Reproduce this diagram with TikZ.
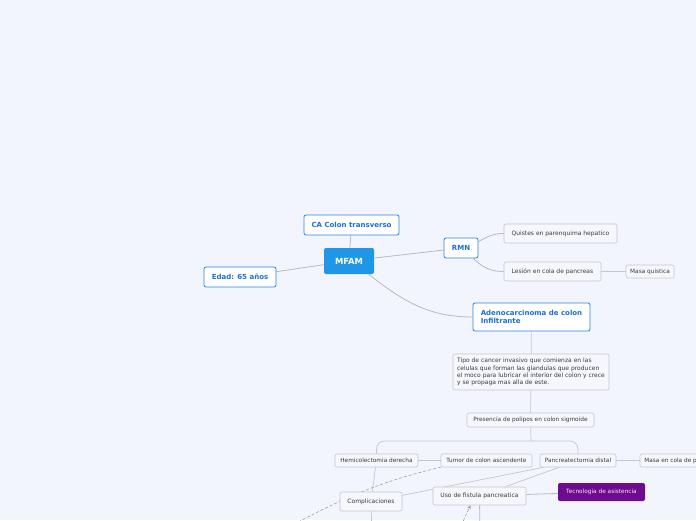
\documentclass[tikz,border=0pt]{standalone}
\usepackage{fontspec}
\setmainfont{DejaVu Sans}
\usetikzlibrary{arrows.meta,backgrounds}
\definecolor{bgcol}{HTML}{F2F5FE}
\definecolor{rootblue}{HTML}{1F97E6}
\definecolor{topicedge}{HTML}{2C84E2}
\definecolor{topictext}{HTML}{1D6FD4}
\definecolor{leafedge}{HTML}{C3C7D0}
\definecolor{leaffill}{HTML}{F6F7FC}
\definecolor{leaftext}{HTML}{3A3B3F}
\definecolor{linkgray}{HTML}{B6BAC2}
\definecolor{techpurple}{HTML}{6D0C8E}
\begin{document}
\begin{tikzpicture}[x=1pt,y=1pt,
root/.style={rectangle,rounded corners=2pt,fill=rootblue,text=white,font=\fontsize{8.4}{10}\selectfont\bfseries,minimum width=50pt,minimum height=26pt,inner sep=0pt},
topic/.style={rectangle,rounded corners=2pt,draw=topicedge,line width=0.8pt,fill=white,text=topictext,font=\fontsize{7}{8.3}\selectfont\bfseries,minimum height=20pt,inner sep=0pt},
leaf/.style={rectangle,rounded corners=2pt,draw=leafedge,line width=0.6pt,fill=leaffill,text=leaftext,font=\fontsize{6}{7.3}\selectfont,minimum height=19pt,inner sep=0pt},
leafsmall/.style={leaf,font=\fontsize{5.8}{7}\selectfont,minimum height=13pt},
tech/.style={rectangle,rounded corners=2pt,fill=techpurple,text=white!88!magenta,font=\fontsize{5.8}{7}\selectfont,minimum height=18pt,inner sep=0pt},
link/.style={draw=linkgray,line width=0.8pt},
leaflink/.style={draw=leafedge,line width=0.7pt},
dashlink/.style={draw=gray!75,line width=0.6pt,dash pattern=on 3pt off 2pt}]
\useasboundingbox(0,0)rectangle(696,-520);
% central idea and topics
\node[root](mfam)at(349,-261){MFAM};
\node[topic,minimum width=95pt](ca)at(351.5,-225){CA Colon transverso};
\node[topic,minimum width=72pt](edad)at(240,-277){Edad: 65 años};
\node[topic,minimum width=34pt](rmn)at(461,-248){RMN};
\node[topic,minimum width=117pt,minimum height=28pt,align=left](adeno)at(531.5,-317){Adenocarcinoma de colon\\Infiltrante};
% RMN branch
\node[leaf,minimum width=113pt](quistes)at(560.5,-233.5){Quistes en parenquima hepatico};
\node[leaf,minimum width=97pt](lesion)at(552.5,-271.5){Lesión en cola de pancreas};
\node[leafsmall,minimum width=48pt](masaq)at(650,-271.5){Masa quistica};
% adenocarcinoma branch
\node[leaf,minimum width=156pt,minimum height=36pt,align=left](tipo)at(531,-372){Tipo de cancer invasivo que comienza en las\\celulas que forman las glandulas que producen\\el moco para lubricar el interior del colon y crece\\y se propaga mas alla de este.};
\node[leafsmall,minimum width=127pt,minimum height=14pt](pres)at(530.5,-420){Presencia de polipos en colon sigmoide};
\node[leafsmall,minimum width=83pt](hemi)at(376.5,-460.5){Hemicolectomia derecha};
\node[leafsmall,minimum width=91pt](tumor)at(486.5,-460.5){Tumor de colon ascendente};
\node[leafsmall,minimum width=76pt](panc)at(578,-460.5){Pancreatectomia distal};
\node[leafsmall,minimum width=84pt](masac)at(682,-460.5){Masa en cola de pancreas};
\node[leaf,minimum width=62pt](compl)at(371,-501.5){Complicaciones};
\node[leaf,minimum width=93pt,minimum height=18pt](uso)at(479.5,-496){Uso de fistula pancreatica};
\node[tech,minimum width=87pt](tec)at(601.5,-492){Tecnologia de asistencia};
\coordinate(brk)at(531,-441);
\coordinate(c1)at(372,-540);\coordinate(c2)at(480,-540);
\coordinate(d1)at(255,-545);\coordinate(d2)at(459,-530);
\begin{scope}[on background layer]
\fill[bgcol](0,0)rectangle(696,-520);
\draw[link](mfam)--(ca);\draw[link](mfam)--(edad);\draw[link](mfam)--(rmn);
\draw[link](mfam.-34)to[out=-38,in=180](adeno.west);
\draw[link](rmn.20)to[out=30,in=180](quistes.west);
\draw[link](rmn.-40)to[out=-45,in=180](lesion.west);
\draw[leaflink](lesion)--(masaq);
\draw[leaflink](adeno)--(tipo);\draw[leaflink](tipo)--(pres);
\draw[leaflink](pres)--(brk);
\draw[leaflink,rounded corners=8pt](hemi.north)|-(brk)-|(panc.north);
\draw[leaflink](tumor)--(hemi);\draw[leaflink](panc)--(masac);
\draw[leaflink](hemi)--(compl);\draw[leaflink](panc)--(compl);\draw[leaflink](panc)--(uso);
\draw[link](uso)--(tec);
\draw[leaflink](compl)--(c1);\draw[link](uso)--(c2);
\draw[dashlink](tumor.south west)to[out=193,in=28](d1);
\draw[dashlink,-{Stealth[length=4pt,width=4pt,open]}](d2)--([xshift=-9pt]uso.south);
\end{scope}
\end{tikzpicture}
\end{document}
